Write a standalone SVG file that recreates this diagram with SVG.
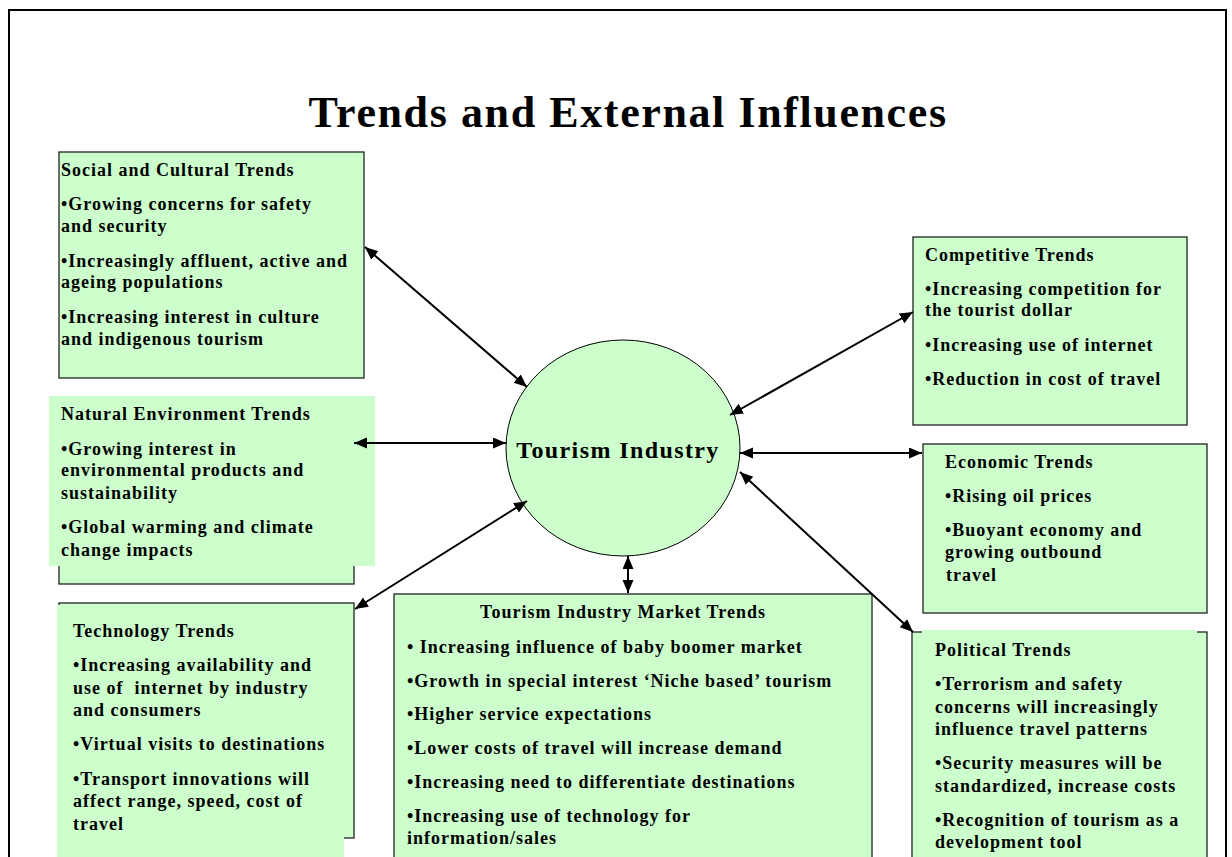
<svg xmlns="http://www.w3.org/2000/svg" width="1232" height="857" viewBox="0 0 1232 857">
<style>
.box{fill:#ccffcc;stroke:#222;stroke-width:1.3}
.cover{fill:#ccffcc;stroke:none}
.t{font-family:"Liberation Serif","Times New Roman",serif;font-weight:bold;fill:#000}
.h{font-size:18px;letter-spacing:1px}
.b{font-size:18px;letter-spacing:1px;white-space:pre}
.conn line{stroke:#000;stroke-width:2;marker-start:url(#ah);marker-end:url(#ah)}
</style>
<defs>
<marker id="ah" markerUnits="userSpaceOnUse" markerWidth="15" markerHeight="12" refX="13" refY="5.5" orient="auto-start-reverse">
<path d="M0,0 L13,5.5 L0,11 z" fill="#000"/>
</marker>
</defs>
<rect x="0" y="0" width="1232" height="857" fill="#fff"/>
<rect x="9" y="10" width="1217" height="900" fill="none" stroke="#000" stroke-width="2"/>
<text class="t" x="628" y="127" text-anchor="middle" font-size="44" letter-spacing="1.6">Trends and External Influences</text>

<g id="social">
<rect class="box" x="59" y="152" width="305" height="226"/>
<text class="t h" x="61" y="176">Social and Cultural Trends</text>
<text class="t b" x="61" y="210">•Growing concerns for safety</text>
<text class="t b" x="61" y="232">and security</text>
<text class="t b" x="61" y="267">•Increasingly affluent, active and</text>
<text class="t b" x="61" y="288">ageing populations</text>
<text class="t b" x="61" y="323">•Increasing interest in culture</text>
<text class="t b" x="61" y="345">and indigenous tourism</text>
</g>

<g id="natural">
<rect class="box" x="59" y="400" width="295" height="184"/>
<rect class="cover" x="49" y="396" width="326" height="170"/>
<text class="t h" x="61" y="420">Natural Environment Trends</text>
<text class="t b" x="61" y="455">•Growing interest in</text>
<text class="t b" x="61" y="476">environmental products and</text>
<text class="t b" x="61" y="499">sustainability</text>
<text class="t b" x="61" y="533">•Global warming and climate</text>
<text class="t b" x="61" y="556">change impacts</text>
</g>

<g id="technology">
<rect class="box" x="59" y="603" width="295" height="235"/>
<rect class="cover" x="57" y="605" width="287" height="252"/>
<text class="t h" x="73" y="637">Technology Trends</text>
<text class="t b" x="73" y="671">•Increasing availability and</text>
<text class="t b" x="73" y="694">use of  internet by industry</text>
<text class="t b" x="73" y="716">and consumers</text>
<text class="t b" x="73" y="750">•Virtual visits to destinations</text>
<text class="t b" x="73" y="785">•Transport innovations will</text>
<text class="t b" x="73" y="807">affect range, speed, cost of</text>
<text class="t b" x="73" y="830">travel</text>
</g>

<g id="market">
<rect class="box" x="394" y="594" width="478" height="290"/>
<text class="t h" x="623" y="618" text-anchor="middle">Tourism Industry Market Trends</text>
<text class="t b" x="407" y="653">• Increasing influence of baby boomer market</text>
<text class="t b" x="407" y="687">•Growth in special interest ‘Niche based’ tourism</text>
<text class="t b" x="407" y="720">•Higher service expectations</text>
<text class="t b" x="407" y="754">•Lower costs of travel will increase demand</text>
<text class="t b" x="407" y="788">•Increasing need to differentiate destinations</text>
<text class="t b" x="407" y="822">•Increasing use of technology for</text>
<text class="t b" x="407" y="844">information/sales</text>
</g>

<g id="competitive">
<rect class="box" x="913" y="237" width="274" height="188"/>
<text class="t h" x="925" y="261">Competitive Trends</text>
<text class="t b" x="925" y="295">•Increasing competition for</text>
<text class="t b" x="925" y="316">the tourist dollar</text>
<text class="t b" x="925" y="351">•Increasing use of internet</text>
<text class="t b" x="925" y="385">•Reduction in cost of travel</text>
</g>

<g id="economic">
<rect class="box" x="923" y="444" width="284" height="169"/>
<text class="t h" x="945" y="468">Economic Trends</text>
<text class="t b" x="945" y="502">•Rising oil prices</text>
<text class="t b" x="945" y="536">•Buoyant economy and</text>
<text class="t b" x="945" y="558">growing outbound</text>
<text class="t b" x="946" y="581">travel</text>
</g>

<g id="political">
<rect class="box" x="912" y="632" width="295" height="250"/>
<rect class="cover" x="922" y="630" width="275" height="227"/>
<text class="t h" x="935" y="656">Political Trends</text>
<text class="t b" x="935" y="690">•Terrorism and safety</text>
<text class="t b" x="935" y="713">concerns will increasingly</text>
<text class="t b" x="935" y="735">influence travel patterns</text>
<text class="t b" x="935" y="769">•Security measures will be</text>
<text class="t b" x="935" y="792">standardized, increase costs</text>
<text class="t b" x="935" y="826">•Recognition of tourism as a</text>
<text class="t b" x="935" y="848">development tool</text>
</g>

<g id="tourism-industry">
<ellipse cx="623" cy="448" rx="117" ry="108" fill="#ccffcc" stroke="#000" stroke-width="1"/>
<text class="t" x="618" y="458" text-anchor="middle" font-size="24" letter-spacing="1.4">Tourism Industry</text>
</g>

<g id="connectors" class="conn">
<line x1="365" y1="247" x2="527" y2="387"/>
<line x1="354" y1="443" x2="506" y2="443"/>
<line x1="355" y1="609" x2="527" y2="501"/>
<line x1="628" y1="556" x2="628" y2="593"/>
<line x1="913" y1="312" x2="730" y2="415"/>
<line x1="740" y1="453" x2="922" y2="453"/>
<line x1="740" y1="472" x2="913" y2="632"/>
</g>
</svg>
